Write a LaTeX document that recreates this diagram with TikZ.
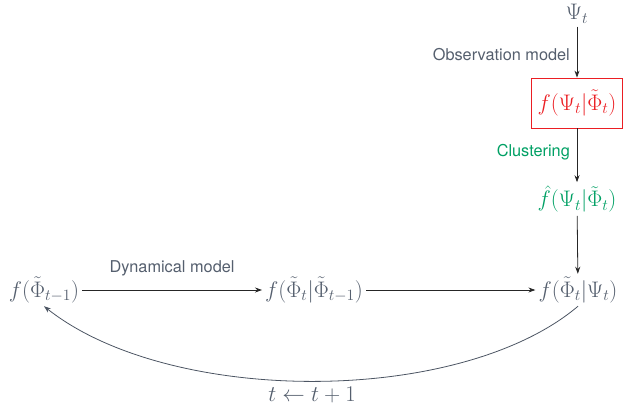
\RequirePackage{fix-cm}
\documentclass[tikz,border=0pt]{standalone}
\usepackage{fontspec}
\setsansfont{TeX Gyre Heros}
\usetikzlibrary{arrows.meta}
\definecolor{tg}{RGB}{85,95,110}
\definecolor{rd}{RGB}{235,30,35}
\definecolor{gr}{RGB}{0,160,100}
\begin{document}
\begin{tikzpicture}[x=1pt,y=-1pt,
  mt/.style={text=tg,font=\fontsize{22.5}{26}\selectfont,inner sep=3pt},
  lab/.style={font=\sffamily\fontsize{16.3}{19}\selectfont,inner sep=1pt},
  arr/.style={-{Stealth[length=7pt,width=5pt]},line width=0.8pt,black!85},
  arrc/.style={-{Stealth[length=7pt,width=5pt]},line width=0.8pt,tg!90!black}]
\useasboundingbox (0,0) rectangle (623,407);
\node[mt] (psi) at (577,14) {$\Psi_t$};
\node[mt,draw=rd,line width=0.8pt,text=rd,minimum width=91pt,minimum height=50pt] (obs) at (577,103) {$f(\Psi_t|\tilde\Phi_t)$};
\node[mt,text=gr] (clu) at (577,199) {$\hat f(\Psi_t|\tilde\Phi_t)$};
\node[mt] (post) at (578,290) {$f(\tilde\Phi_t|\Psi_t)$};
\node[mt] (prior) at (44,290) {$f(\tilde\Phi_{t-1})$};
\node[mt] (pred) at (314,290) {$f(\tilde\Phi_t|\tilde\Phi_{t-1})$};
\node[mt] (step1) at (312,395) {$t\leftarrow t+1$};
\draw[arr] (psi) -- (obs);
\draw[arr] (obs) -- (clu);
\draw[arr] (clu) -- (post);
\draw[arr] (prior) -- (pred);
\draw[arr] (pred) -- (post);
\node[lab,text=tg,anchor=east] (l1) at (571,55) {Observation model};
\node[lab,text=gr,anchor=east] (l2) at (571,152) {Clustering};
\node[lab,text=tg] (l3) at (172,268) {Dynamical model};
\draw[arrc] (post.south) .. controls (460,406) and (170,406) .. (prior.south);
\end{tikzpicture}
\end{document}
